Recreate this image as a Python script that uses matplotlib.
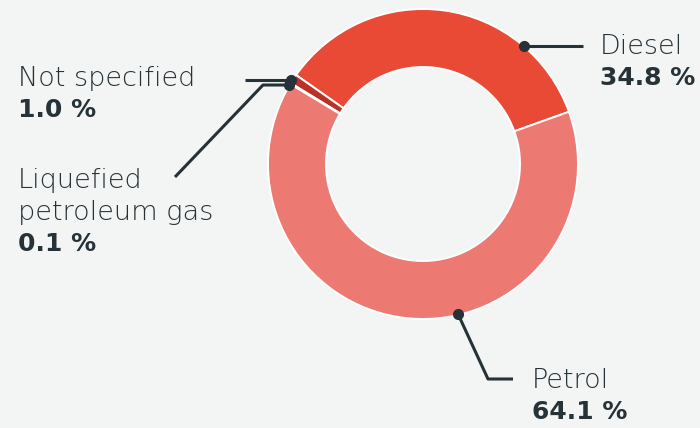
import matplotlib.pyplot as plt

labels = ["Diesel", "Not specified", "Liquefied\npetroleum gas", "Petrol"]
shares = [34.8, 1.0, 0.1, 64.1]
colors = ["#E84A35", "#B83228", "#D9584C", "#EC7A72"]

bg = "#F3F4F4"
ink = "#253238"

fig = plt.figure(figsize=(7, 4.28), dpi=100, facecolor=bg)
ax = fig.add_axes([0, 0, 1, 1])
ax.set_facecolor(bg)

H = 428
cx, cy, r = 423, H - 164, 155

ax.pie(shares, colors=colors, startangle=19.7, counterclock=True,
       center=(cx, cy), radius=r, frame=True,
       wedgeprops=dict(width=58, edgecolor="white", linewidth=1.4))
ax.set_xlim(0, 700)
ax.set_ylim(0, 428)
ax.axis("off")

lw = 2.2
fam = ["DejaVu Sans"]

def leader(pts, dot):
    xs = [p[0] for p in pts]
    ys = [H - p[1] for p in pts]
    ax.plot(xs, ys, color=ink, lw=lw, solid_capstyle="butt", zorder=5)
    ax.plot(dot[0], H - dot[1], "o", color=ink, ms=7, zorder=6)

def label(x, y, name, value, ha="left"):
    lines = name.split("\n")
    for i, line in enumerate(lines):
        ax.text(x, H - (y + i * 32), line, fontsize=19.5, color=ink,
                family=fam, fontweight="light", ha=ha, va="center")
    ax.text(x, H - (y + len(lines) * 32), f"{value:.1f} %", fontsize=18,
            color=ink, family=fam, fontweight="bold", ha=ha, va="center")

# Diesel
leader([(524, 46), (583, 46)], (524, 46))
label(600, 46, labels[0], shares[0])

# Petrol
leader([(458, 314), (488, 379), (513, 379)], (458, 314))
label(532, 380, labels[3], shares[3])

# Not specified
leader([(245, 80), (291, 80)], (291, 80))
label(18, 78, labels[1], shares[1])

# Liquefied petroleum gas
leader([(289, 85), (263, 85), (175, 177)], (289, 85))
label(18, 180, labels[2], shares[2])

fig.savefig("out.png", dpi=100, facecolor=bg)
